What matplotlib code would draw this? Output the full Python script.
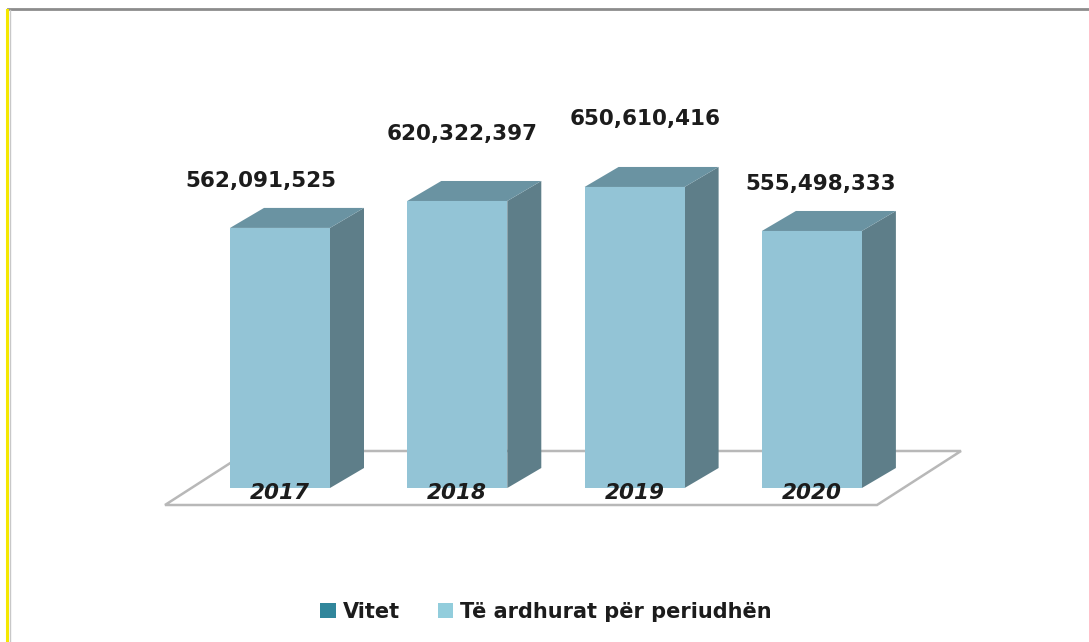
import matplotlib
matplotlib.use('Agg')
import matplotlib.pyplot as plt
from matplotlib.patches import Polygon, Patch
from matplotlib.lines import Line2D

# data
years = ['2017', '2018', '2019', '2020']
revenue = [562091525, 620322397, 650610416, 555498333]
legend_labels = ['Vitet', 'Të ardhurat për periudhën']

# pixel geometry of the fake 3d look
W, H = 1089, 642
x0_px, step_px = 280, 177.3      # front centre of first bar, spacing
base_px = 488                    # bar bottom
px_per_unit = 0.4627e-6          # value -> pixels
bar_w = 100 / step_px
dx = 34 / step_px
dy = 20 / px_per_unit

front_c = '#93c4d6'
side_c = '#5e7e89'
top_c = '#6a93a2'
txt_c = '#1c1c1c'

# label tweaks in px (dx from front centre, dy above back top edge)
lab_dx = [-19, 5, 11, 9]
lab_dy = [27, 47, 48, 27]

fig = plt.figure(figsize=(W / 100, H / 100), dpi=100)
ax = fig.add_axes([0, 0, 1, 1])
ax.set_xlim(-x0_px / step_px, (W - x0_px) / step_px)
ax.set_ylim(-(H - base_px) / px_per_unit, base_px / px_per_unit)
ax.axis('off')

# floor
fy = -17 / px_per_unit
fl, fr = (165 - x0_px) / step_px, (877 - x0_px) / step_px
bx, by = 84 / step_px, 54 / px_per_unit
floor = Polygon([(fl, fy), (fr, fy), (fr + bx, fy + by), (fl + bx, fy + by)],
                closed=True, facecolor='white', edgecolor='#b8b8b8', lw=1.8, zorder=1)
ax.add_patch(floor)

for i, v in enumerate(revenue):
    l, r = i - bar_w / 2, i + bar_w / 2
    side = Polygon([(r, 0), (r + dx, dy), (r + dx, v + dy), (r, v)],
                   closed=True, facecolor=side_c, edgecolor='none', zorder=2)
    top = Polygon([(l, v), (r, v), (r + dx, v + dy), (l + dx, v + dy)],
                  closed=True, facecolor=top_c, edgecolor='none', zorder=2)
    ax.add_patch(side)
    ax.add_patch(top)
    ax.bar(i, v, width=bar_w, color=front_c, zorder=3)
    ax.text(i, -5 / px_per_unit, years[i], ha='center', va='center',
            fontsize=15.5, fontweight='bold', style='italic', color=txt_c, zorder=4)
    ax.text(i + lab_dx[i] / step_px, v + dy + lab_dy[i] / px_per_unit,
            f'{v:,}', ha='center', va='center', fontsize=15.5,
            fontweight='bold', color=txt_c, zorder=4)

handles = [Patch(facecolor='#31869b'), Patch(facecolor='#92cddc')]
fig.legend(handles, legend_labels, loc='center', bbox_to_anchor=(546 / W, 1 - 612 / H),
           ncol=2, frameon=False, handlelength=0.75, handleheight=0.75,
           handletextpad=0.35, columnspacing=1.8,
           prop={'size': 15, 'weight': 'bold'}, labelcolor=txt_c)

# outer frame bits
fig.add_artist(Line2D([8 / W, 1], [1 - 9 / H, 1 - 9 / H], color='#8c8c8c', lw=2))
fig.add_artist(Line2D([7 / W, 7 / W], [0, 1 - 10 / H], color='#f5e800', lw=2.2))
fig.add_artist(Line2D([10 / W, 10 / W], [0, 1 - 10 / H], color='#c8c8c8', lw=1))

fig.savefig('out.png', dpi=100)
